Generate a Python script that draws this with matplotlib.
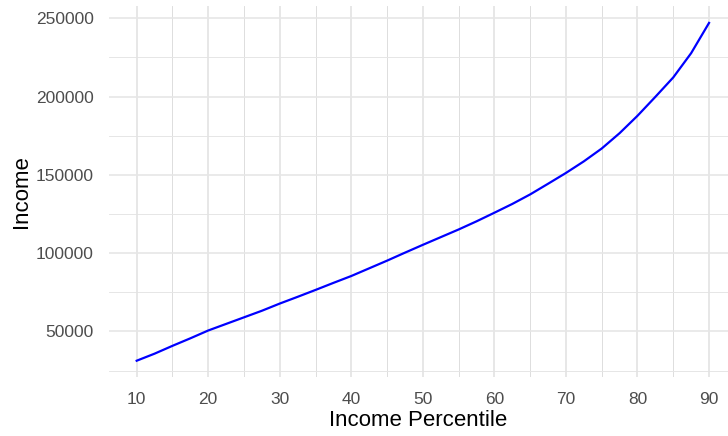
import matplotlib
matplotlib.use("Agg")
import matplotlib.pyplot as plt
import numpy as np

percentile = [10, 12.5, 15, 17.5, 20, 22.5, 25, 27.5, 30, 32.5, 35, 37.5, 40,
              42.5, 45, 47.5, 50, 52.5, 55, 57.5, 60, 62.5, 65, 67.5, 70,
              72.5, 75, 77.5, 80, 82.5, 85, 87.5, 90]
income = [31300, 35800, 40800, 45600, 50600, 54800, 59000, 63200, 67800, 72100,
          76500, 81000, 85400, 90300, 95200, 100300, 105300, 110200, 115100,
          120300, 125800, 131400, 137500, 144300, 151200, 158600, 166800,
          176600, 187700, 199800, 212200, 227700, 247000]

x_major = [10, 20, 30, 40, 50, 60, 70, 80, 90]
x_minor = [15, 25, 35, 45, 55, 65, 75, 85]
y_major = [50000, 100000, 150000, 200000, 250000]
y_minor = [25000, 75000, 125000, 175000, 225000]

plt.rcParams['font.family'] = ['Liberation Sans', 'DejaVu Sans']

fig = plt.figure(figsize=(7.28, 4.36), dpi=100)
ax = fig.add_axes([109/728, 1 - 377/436, 1 - 109/728, (377 - 6)/436])

for v in x_minor:
    ax.axvline(v, color='#d8d8d8', lw=0.6, zorder=0)
for v in y_minor:
    ax.axhline(v, color='#e6e6e6', lw=0.7, zorder=0)
for v in x_major:
    ax.axvline(v, color='#e3e3e3', lw=1.2, zorder=0)
for v in y_major:
    ax.axhline(v, color='#e6e6e6', lw=1.2, zorder=0)

ax.plot(percentile, income, color='#0000ff', lw=1.6, zorder=3)

ax.set_xlim(6.13, 92.65)
ax.set_ylim(20900, 257800)
ax.set_xticks(x_major)
ax.set_yticks(y_major)
ax.set_yticklabels([str(v) for v in y_major])
for s in ax.spines.values():
    s.set_visible(False)
ax.tick_params(axis='both', length=0, labelsize=12.5, labelcolor='#4d4d4d')
ax.tick_params(axis='x', pad=11)
ax.tick_params(axis='y', pad=11)
ax.set_xlabel('Income Percentile', fontsize=16, color='black', labelpad=2)
ax.set_ylabel('Income', fontsize=16, color='black', labelpad=3)

fig.savefig('out.png', dpi=100)
